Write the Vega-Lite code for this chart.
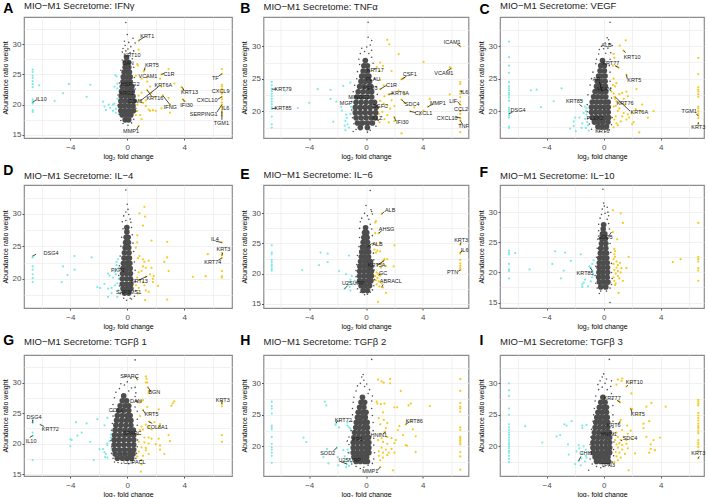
{"$schema":"https://vega.github.io/schema/vega-lite/v6.json","padding":{"left":0,"top":0,"right":0,"bottom":0},"bounds":"flush","columns":3,"spacing":{"row":47,"column":31.5},
"config":{"view":{"stroke":"#8c8c8c","strokeWidth":1.2},"circle":{"opacity":1},"axis":{"domain":false,"gridColor":"#ebebeb","gridWidth":0.7,"tickSize":2,"tickColor":"#555555","labelFont":"Liberation Sans","labelFontSize":8,"labelColor":"#4d4d4d","titleFont":"Liberation Sans","titleFontSize":7,"titleFontWeight":"normal","titleColor":"#000000"},"axisX":{"labelPadding":3,"titlePadding":1},"axisY":{"labelPadding":1,"titlePadding":4},"title":{"anchor":"start","frame":"group","font":"Liberation Sans","fontSize":9.5,"fontWeight":"normal","color":"#222222"},"style":{"c":{"color":"#4d4d4d","size":32},"g":{"color":"#4d4d4d","size":2.5},"u":{"color":"#f6ca1f","size":5},"d":{"color":"#7fe9e9","size":5},"s":{"stroke":"#000000","strokeWidth":0.7},"l":{"font":"Liberation Sans","fontSize":5.5,"color":"#1a1a1a"},"t":{"font":"Liberation Sans","fontSize":14,"fontWeight":"bold","color":"#000000","align":"left","baseline":"alphabetic"}}},
"datasets":{
"A_d":[{"x":-6.64,"y":25.8},{"x":-6.64,"y":25.4},{"x":-6.64,"y":24.8},{"x":-6.64,"y":24.4},{"x":-6.64,"y":23.9},{"x":-6.64,"y":23.4},{"x":-6.64,"y":22.9},{"x":-6.64,"y":20.9},{"x":-6.64,"y":20.6},{"x":-6.64,"y":20.4},{"x":-6.64,"y":20.2},{"x":-6.64,"y":19.1},{"x":-6.64,"y":18.8},{"x":-6.2,"y":23.2},{"x":-4.1,"y":23.4},{"x":-4.5,"y":21.9},{"x":-5.1,"y":20.6},{"x":-2.85,"y":21.3},{"x":-2.6,"y":23.3},{"x":-1.7,"y":20.5},{"x":-1.6,"y":19.7},{"x":-1.5,"y":19.1},{"x":-1.3,"y":20},{"x":-1.2,"y":19.5},{"x":-1,"y":20},{"x":-1,"y":19},{"x":-0.9,"y":20.2},{"x":-0.8,"y":19.3},{"x":-0.8,"y":18.7},{"x":-0.7,"y":21},{"x":-0.9,"y":23},{"x":-0.75,"y":24.7},{"x":-0.85,"y":24.9},{"x":-0.7,"y":23.5},{"x":-0.7,"y":22.7},{"x":-0.6,"y":18.5}],
"A_u":[{"x":0.8,"y":30.6},{"x":0.8,"y":29.1},{"x":0.7,"y":26.7},{"x":0.75,"y":26.5},{"x":1.2,"y":25.7},{"x":1.15,"y":25.5},{"x":0.6,"y":24.8},{"x":1,"y":24.3},{"x":1.4,"y":24.5},{"x":1.4,"y":23.8},{"x":2.4,"y":25},{"x":2.9,"y":25.9},{"x":2.3,"y":24.3},{"x":3.3,"y":23.5},{"x":2.4,"y":23},{"x":1.6,"y":23},{"x":3.8,"y":22.9},{"x":3.9,"y":22.5},{"x":3.9,"y":20.9},{"x":4,"y":20.6},{"x":2.5,"y":21.5},{"x":2.9,"y":21.1},{"x":3,"y":20},{"x":3,"y":18.7},{"x":2.4,"y":19.4},{"x":2,"y":19},{"x":1.8,"y":19.1},{"x":1.5,"y":19.2},{"x":1.3,"y":19.8},{"x":1.1,"y":20.3},{"x":0.9,"y":20.6},{"x":0.8,"y":21.5},{"x":1,"y":22},{"x":1.4,"y":22.4},{"x":1.7,"y":21.9},{"x":1.9,"y":21.3},{"x":1.3,"y":20.7},{"x":0.7,"y":20},{"x":0.7,"y":19},{"x":0.6,"y":18.3},{"x":0.9,"y":18.3},{"x":1,"y":17.6},{"x":0.8,"y":16.5},{"x":1.6,"y":19},{"x":6.64,"y":25.9},{"x":6.64,"y":25.1},{"x":6.64,"y":23.3},{"x":6.64,"y":23},{"x":6.64,"y":22.6},{"x":6.64,"y":22.2},{"x":6.64,"y":21.8},{"x":6.64,"y":21.3},{"x":6.64,"y":20.9},{"x":6.64,"y":20.4},{"x":6.64,"y":20},{"x":6.64,"y":19.6},{"x":6.64,"y":19.2},{"x":6.64,"y":18.7},{"x":6.64,"y":18.2}],
"A_g":[{"x":-0.1,"y":33.6},{"x":0,"y":31.6},{"x":-0.2,"y":30.5},{"x":0.4,"y":31},{"x":0.1,"y":30.3},{"x":0.55,"y":30.2},{"x":-0.15,"y":29.8},{"x":0.25,"y":29.6},{"x":-0.3,"y":29.3},{"x":0.05,"y":29.2},{"x":0.45,"y":28.9},{"x":-0.35,"y":28.7},{"x":-0.1,"y":28.9},{"x":0.2,"y":28.6},{"x":0.35,"y":27.6},{"x":-0.35,"y":27.4},{"x":0.45,"y":26.2},{"x":-0.45,"y":25.7},{"x":0.5,"y":24.5},{"x":-0.55,"y":23.6},{"x":0.55,"y":22.6},{"x":-0.65,"y":21.6},{"x":0.62,"y":20.6},{"x":-0.65,"y":19.9},{"x":0.6,"y":18.9},{"x":-0.55,"y":18.4},{"x":0.45,"y":17.6},{"x":-0.45,"y":17.4},{"x":0.3,"y":17},{"x":-0.3,"y":16.9},{"x":0.05,"y":16.6},{"x":0.6,"y":19.4}],
"A_c":[{"x":-0.15,"y":17.5},{"x":0.1,"y":17.5},{"x":-0.35,"y":18.3},{"x":-0.05,"y":18.3},{"x":0.25,"y":18.3},{"x":-0.45,"y":19},{"x":-0.15,"y":19},{"x":0.15,"y":19},{"x":0.42,"y":19},{"x":-0.48,"y":19.8},{"x":-0.2,"y":19.8},{"x":0.1,"y":19.8},{"x":0.4,"y":19.8},{"x":-0.45,"y":20.6},{"x":-0.15,"y":20.6},{"x":0.15,"y":20.6},{"x":0.45,"y":20.6},{"x":-0.42,"y":21.4},{"x":-0.12,"y":21.4},{"x":0.15,"y":21.4},{"x":0.4,"y":21.4},{"x":-0.4,"y":22.2},{"x":-0.1,"y":22.2},{"x":0.15,"y":22.2},{"x":0.35,"y":22.2},{"x":-0.35,"y":23},{"x":-0.08,"y":23},{"x":0.18,"y":23},{"x":0.32,"y":23},{"x":-0.3,"y":23.8},{"x":-0.05,"y":23.8},{"x":0.2,"y":23.8},{"x":-0.28,"y":24.6},{"x":0,"y":24.6},{"x":0.2,"y":24.6},{"x":-0.22,"y":25.4},{"x":0.05,"y":25.4},{"x":0.15,"y":25.4},{"x":-0.15,"y":26.2},{"x":0.1,"y":26.2},{"x":-0.12,"y":27},{"x":0.08,"y":27},{"x":-0.05,"y":27.8}],
"A_s":[{"x":0.8,"y":30.6,"x2":1.2,"y2":31.2},{"x":1.2,"y":25.7,"x2":1.25,"y2":26.2},{"x":2.4,"y":25,"x2":2.6,"y2":25.2},{"x":0.9,"y":20.6,"x2":2.2,"y2":23},{"x":3.85,"y":22.9,"x2":4,"y2":22.3},{"x":6.64,"y":25.1,"x2":6.4,"y2":24.7},{"x":6.64,"y":21.3,"x2":6.35,"y2":20.9},{"x":1.4,"y":22.4,"x2":1.7,"y2":21.4},{"x":2.5,"y":21.5,"x2":3,"y2":20},{"x":3.9,"y":20.9,"x2":4.05,"y2":20.5},{"x":6.64,"y":20,"x2":6.3,"y2":18.8},{"x":6.64,"y":19,"x2":6.64,"y2":17.5},{"x":-6.64,"y":20.4,"x2":-6.4,"y2":20.8},{"x":0.8,"y":16.5,"x2":0.65,"y2":15.9}],
"A_l":[{"t":"KRT1","x":1.4,"y":31.4},{"t":"KRT10","x":0.33,"y":28.3},{"t":"DAN","x":0.05,"y":26.9},{"t":"KRT5","x":1.73,"y":26.5},{"t":"VCAM1","x":1.45,"y":24.7},{"t":"C1R","x":2.92,"y":25.1},{"t":"HSPG2","x":0.2,"y":23.4},{"t":"KRT6A","x":2.53,"y":23.3},{"t":"ARG1","x":-0.07,"y":21.9},{"t":"KRT13","x":4.37,"y":22.1},{"t":"CXCL9","x":6.55,"y":22.2},{"t":"TF","x":6.18,"y":24.4},{"t":"CXCL10","x":5.6,"y":20.8},{"t":"KRT16","x":1.94,"y":21.1},{"t":"C3M1","x":0.56,"y":20.6},{"t":"IL10","x":-6.03,"y":21},{"t":"IFNG","x":3.02,"y":19.6},{"t":"IFI30","x":4.16,"y":19.9},{"t":"IL6","x":6.9,"y":19.5},{"t":"SERPING1","x":5.36,"y":18.5},{"t":"TGM1","x":6.6,"y":17},{"t":"MMP1","x":0.26,"y":15.7}],
"B_d":[{"x":-6.64,"y":24.5},{"x":-6.64,"y":24},{"x":-6.64,"y":23.5},{"x":-6.64,"y":23.1},{"x":-6.64,"y":22.7},{"x":-6.64,"y":22.3},{"x":-6.64,"y":21.9},{"x":-6.64,"y":21.5},{"x":-6.64,"y":21.1},{"x":-6.64,"y":20.7},{"x":-6.64,"y":20.4},{"x":-6.64,"y":19.2},{"x":-6.64,"y":18},{"x":-6.64,"y":17.5},{"x":-5.7,"y":23.2},{"x":-4.8,"y":20.5},{"x":-4,"y":21.3},{"x":-3.4,"y":23.4},{"x":-2.5,"y":23.3},{"x":-2.5,"y":21.9},{"x":-2.1,"y":21.5},{"x":-1.6,"y":23.9},{"x":-1.1,"y":24.4},{"x":-1.75,"y":20.7},{"x":-1.7,"y":20.1},{"x":-2.3,"y":18.4},{"x":-1.4,"y":19.5},{"x":-1.35,"y":19},{"x":-1.45,"y":18.5},{"x":-1.3,"y":18},{"x":-1.5,"y":17.8},{"x":-1.45,"y":17.1},{"x":-1.2,"y":17.5},{"x":-1.1,"y":19.6},{"x":-1.05,"y":20.7},{"x":-1,"y":22}],
"B_u":[{"x":1.5,"y":31},{"x":1.65,"y":30.3},{"x":2.3,"y":28.8},{"x":1,"y":27.5},{"x":1.2,"y":27},{"x":0.75,"y":26.8},{"x":0.95,"y":26.2},{"x":1.8,"y":26.2},{"x":4.05,"y":27.6},{"x":2.5,"y":24.9},{"x":2.65,"y":25.1},{"x":1,"y":24.8},{"x":1.25,"y":24},{"x":1,"y":23.4},{"x":1.6,"y":22.6},{"x":2.3,"y":23.2},{"x":2.7,"y":22.8},{"x":1.3,"y":22.3},{"x":1.8,"y":21.7},{"x":2.5,"y":21.8},{"x":2.7,"y":21.3},{"x":1,"y":21.6},{"x":1.25,"y":21.2},{"x":1.5,"y":20.9},{"x":0.9,"y":20.6},{"x":1.7,"y":20.4},{"x":2,"y":20.8},{"x":3.1,"y":20},{"x":3.8,"y":19.5},{"x":4.05,"y":20.1},{"x":3.4,"y":20.6},{"x":4.5,"y":21.9},{"x":4.35,"y":20.7},{"x":0.9,"y":19.6},{"x":1.15,"y":19.9},{"x":1.5,"y":19.4},{"x":2,"y":19.1},{"x":2,"y":18.5},{"x":1.3,"y":18.8},{"x":0.95,"y":18.3},{"x":1.6,"y":18.3},{"x":2.5,"y":16.6},{"x":5.9,"y":26.8},{"x":6,"y":26.6},{"x":5.9,"y":22.6},{"x":6.64,"y":30},{"x":6.64,"y":24.5},{"x":6.64,"y":24.2},{"x":6.64,"y":23.1},{"x":6.64,"y":22.7},{"x":6.64,"y":22.2},{"x":6.64,"y":21.5},{"x":6.64,"y":21},{"x":6.64,"y":20},{"x":6.64,"y":19.6},{"x":6.64,"y":19},{"x":6.64,"y":18.6},{"x":6.64,"y":18},{"x":6.64,"y":16.8}],
"B_g":[{"x":0.15,"y":33.7},{"x":0.15,"y":31.4},{"x":0.4,"y":30.9},{"x":0.3,"y":30.2},{"x":-0.3,"y":29.7},{"x":0.05,"y":29.9},{"x":-0.1,"y":29.2},{"x":0.4,"y":29.4},{"x":-0.4,"y":28.9},{"x":0.2,"y":28.9},{"x":-0.5,"y":28},{"x":0.4,"y":28.3},{"x":0.5,"y":27.4},{"x":-0.45,"y":27.2},{"x":0.6,"y":26.5},{"x":-0.6,"y":26.1},{"x":-0.65,"y":25},{"x":0.6,"y":25},{"x":-0.8,"y":24},{"x":0.7,"y":23.8},{"x":-0.9,"y":23},{"x":0.8,"y":22.6},{"x":-1,"y":21.5},{"x":-1,"y":20.2},{"x":-0.95,"y":19},{"x":0.85,"y":18.6},{"x":-0.85,"y":18.1},{"x":0.7,"y":17.7},{"x":-0.7,"y":17.2},{"x":-0.9,"y":16.9},{"x":0.3,"y":17.1},{"x":0.1,"y":16.8}],
"B_c":[{"x":-0.4,"y":17.5},{"x":0.1,"y":17.5},{"x":-0.6,"y":18.2},{"x":-0.25,"y":18.2},{"x":0.1,"y":18.2},{"x":0.45,"y":18.2},{"x":-0.7,"y":19},{"x":-0.35,"y":19},{"x":0,"y":19},{"x":0.35,"y":19},{"x":0.65,"y":19},{"x":-0.75,"y":19.8},{"x":-0.4,"y":19.8},{"x":-0.05,"y":19.8},{"x":0.3,"y":19.8},{"x":0.68,"y":19.8},{"x":-0.75,"y":20.6},{"x":-0.4,"y":20.6},{"x":-0.05,"y":20.6},{"x":0.3,"y":20.6},{"x":0.7,"y":20.6},{"x":-0.7,"y":21.4},{"x":-0.35,"y":21.4},{"x":0,"y":21.4},{"x":0.35,"y":21.4},{"x":0.6,"y":21.4},{"x":-0.65,"y":22.2},{"x":-0.3,"y":22.2},{"x":0.05,"y":22.2},{"x":0.4,"y":22.2},{"x":-0.55,"y":23},{"x":-0.2,"y":23},{"x":0.15,"y":23},{"x":0.4,"y":23},{"x":-0.45,"y":23.8},{"x":-0.15,"y":23.8},{"x":0.2,"y":23.8},{"x":0.35,"y":23.8},{"x":-0.35,"y":24.6},{"x":-0.05,"y":24.6},{"x":0.25,"y":24.6},{"x":-0.3,"y":25.4},{"x":0,"y":25.4},{"x":0.2,"y":25.4},{"x":-0.2,"y":26.2},{"x":0.1,"y":26.2},{"x":-0.15,"y":27},{"x":0.1,"y":27},{"x":-0.05,"y":27.8}],
"B_s":[{"x":6.64,"y":30,"x2":6.4,"y2":30.4},{"x":6,"y":26.6,"x2":5.7,"y2":26.2},{"x":2.5,"y":24.9,"x2":2.85,"y2":25.4},{"x":1,"y":23.4,"x2":1.45,"y2":24},{"x":1.6,"y":22.6,"x2":1.95,"y2":22.8},{"x":2.5,"y":21.8,"x2":2.8,"y2":21.2},{"x":4.35,"y":20.7,"x2":4.7,"y2":21.1},{"x":3.1,"y":20,"x2":3.5,"y2":19.8},{"x":2,"y":19.1,"x2":2.1,"y2":18.5},{"x":-6.64,"y":23.4,"x2":-6.3,"y2":23.4},{"x":-6.64,"y":20.4,"x2":-6.3,"y2":20.5},{"x":6.64,"y":23.1,"x2":6.8,"y2":23},{"x":6.64,"y":21,"x2":6.45,"y2":21.5},{"x":6.64,"y":20,"x2":6.7,"y2":20.2},{"x":6.64,"y":19,"x2":6.3,"y2":19.1},{"x":6.64,"y":18.6,"x2":6.8,"y2":18}],
"B_l":[{"t":"ICAM1","x":6.07,"y":30.7},{"t":"VCAM1","x":5.48,"y":25.9},{"t":"CSF1","x":3.08,"y":25.7},{"t":"C1R","x":1.79,"y":24.1},{"t":"KRT6A","x":2.4,"y":22.8},{"t":"SDC4","x":3.25,"y":21.1},{"t":"MMP1","x":5.06,"y":21.3},{"t":"CXCL1","x":4.05,"y":19.7},{"t":"IFI30","x":2.56,"y":18.3},{"t":"KRT79","x":-5.84,"y":23.4},{"t":"KRT85","x":-5.84,"y":20.5},{"t":"LIF","x":6.14,"y":21.6},{"t":"IL6","x":6.94,"y":23},{"t":"CCL2","x":6.7,"y":20.4},{"t":"CXCL10","x":5.72,"y":19},{"t":"TNF","x":6.87,"y":17.7},{"t":"KRT17","x":0.65,"y":26.3},{"t":"PLAU","x":0.5,"y":25},{"t":"NEU3","x":0.3,"y":23.6},{"t":"MINDC2","x":-0.5,"y":22.2},{"t":"DGFC","x":1,"y":20.8},{"t":"KLZ","x":0.8,"y":19},{"t":"MGP","x":-1.4,"y":21.3}],
"C_d":[{"x":-6.64,"y":30.7},{"x":-6.64,"y":28.3},{"x":-6.64,"y":27},{"x":-6.64,"y":25.9},{"x":-6.64,"y":24.5},{"x":-6.64,"y":23.8},{"x":-6.64,"y":23.5},{"x":-6.64,"y":23.2},{"x":-6.64,"y":22.8},{"x":-6.64,"y":22.5},{"x":-6.64,"y":22.1},{"x":-6.64,"y":21.6},{"x":-6.64,"y":20.5},{"x":-6.64,"y":20.2},{"x":-6.64,"y":19.9},{"x":-6.64,"y":19.6},{"x":-6.64,"y":19.3},{"x":-6.64,"y":19},{"x":-6.64,"y":17.6},{"x":-6.64,"y":17.4},{"x":-5.1,"y":23.2},{"x":-4.7,"y":23.3},{"x":-2.95,"y":23.5},{"x":-3.5,"y":21.5},{"x":-4.4,"y":20.6},{"x":-1.5,"y":21.6},{"x":-1.3,"y":20.7},{"x":-1.2,"y":20.4},{"x":-1.25,"y":20},{"x":-1.2,"y":19.5},{"x":-1.3,"y":18.8},{"x":-1.15,"y":18.3},{"x":-1.1,"y":17.8},{"x":-1.25,"y":17.4},{"x":-1.5,"y":18.1},{"x":-1.7,"y":19},{"x":-2,"y":19},{"x":-2.1,"y":18.4},{"x":-2.1,"y":17.7},{"x":-2.35,"y":17.3},{"x":-1.95,"y":16.9},{"x":-1.55,"y":17.4},{"x":-1.05,"y":17},{"x":-1.4,"y":19.7}],
"C_u":[{"x":1.55,"y":30.9},{"x":1.13,"y":30.1},{"x":1.4,"y":29.3},{"x":0.7,"y":28.8},{"x":0.75,"y":28.2},{"x":0.65,"y":27},{"x":0.9,"y":26.9},{"x":1.05,"y":26.7},{"x":1.6,"y":25.6},{"x":0.7,"y":25},{"x":0.9,"y":24.3},{"x":0.65,"y":24},{"x":0.8,"y":23.8},{"x":0.55,"y":23},{"x":0.7,"y":22.7},{"x":0.75,"y":22.2},{"x":0.8,"y":21.9},{"x":0.9,"y":21.5},{"x":1.1,"y":22.6},{"x":1.3,"y":22.8},{"x":1.6,"y":23},{"x":2.3,"y":23.4},{"x":1.7,"y":22.3},{"x":1.4,"y":21.9},{"x":1.15,"y":21.3},{"x":1.5,"y":21},{"x":0.85,"y":20.8},{"x":1.1,"y":20.4},{"x":0.7,"y":20.7},{"x":1,"y":20},{"x":1.4,"y":19.7},{"x":1.7,"y":19.5},{"x":2,"y":19.7},{"x":2.6,"y":20},{"x":2.7,"y":21},{"x":2.25,"y":20.3},{"x":3.5,"y":20},{"x":3.1,"y":19},{"x":1.8,"y":19},{"x":1.3,"y":19.2},{"x":0.85,"y":19.2},{"x":0.75,"y":18.7},{"x":0.9,"y":18.1},{"x":1.2,"y":18.4},{"x":1,"y":17.8},{"x":0.7,"y":17.5},{"x":2.1,"y":18.3},{"x":2,"y":18},{"x":1.6,"y":18.7},{"x":2.5,"y":16.7},{"x":6.64,"y":28.2},{"x":6.64,"y":25.7},{"x":6.64,"y":23.7},{"x":6.64,"y":23.3},{"x":6.64,"y":23},{"x":6.64,"y":22.6},{"x":6.64,"y":22.2},{"x":6.64,"y":20.7},{"x":6.64,"y":20.4},{"x":6.64,"y":20},{"x":6.64,"y":19.6},{"x":6.64,"y":19.3},{"x":6.64,"y":18.9},{"x":6.64,"y":18}],
"C_g":[{"x":0.45,"y":33.7},{"x":0.25,"y":31.3},{"x":0.35,"y":31},{"x":0.1,"y":30.5},{"x":0.4,"y":30.4},{"x":0.6,"y":30.1},{"x":-0.15,"y":30},{"x":0.3,"y":29.7},{"x":-0.3,"y":29.5},{"x":0,"y":29.6},{"x":0.5,"y":29},{"x":-0.35,"y":28.8},{"x":0.15,"y":28.9},{"x":-0.5,"y":28},{"x":0.45,"y":28},{"x":-0.55,"y":27.3},{"x":0.4,"y":27},{"x":-0.75,"y":26},{"x":0.45,"y":26},{"x":-0.85,"y":25},{"x":0.45,"y":24.6},{"x":-0.95,"y":24},{"x":0.5,"y":23.5},{"x":-1.1,"y":22.5},{"x":0.55,"y":22},{"x":-1.15,"y":21},{"x":-1.15,"y":19.9},{"x":-1.1,"y":18.9},{"x":0.6,"y":19},{"x":-1,"y":18},{"x":0.55,"y":17.9},{"x":-0.85,"y":17.2},{"x":0.4,"y":17.1},{"x":0.1,"y":16.8},{"x":-0.3,"y":16.9}],
"C_c":[{"x":-0.4,"y":17.6},{"x":-0.1,"y":17.6},{"x":0.2,"y":17.6},{"x":-0.65,"y":18.3},{"x":-0.35,"y":18.3},{"x":-0.05,"y":18.3},{"x":0.3,"y":18.3},{"x":-0.8,"y":19},{"x":-0.5,"y":19},{"x":-0.2,"y":19},{"x":0.1,"y":19},{"x":0.35,"y":19},{"x":-0.85,"y":19.8},{"x":-0.55,"y":19.8},{"x":-0.25,"y":19.8},{"x":0.05,"y":19.8},{"x":0.32,"y":19.8},{"x":-0.85,"y":20.6},{"x":-0.55,"y":20.6},{"x":-0.25,"y":20.6},{"x":0.05,"y":20.6},{"x":0.32,"y":20.6},{"x":-0.8,"y":21.4},{"x":-0.5,"y":21.4},{"x":-0.2,"y":21.4},{"x":0.1,"y":21.4},{"x":0.32,"y":21.4},{"x":-0.7,"y":22.2},{"x":-0.42,"y":22.2},{"x":-0.12,"y":22.2},{"x":0.15,"y":22.2},{"x":-0.6,"y":23},{"x":-0.3,"y":23},{"x":-0.05,"y":23},{"x":0.15,"y":23},{"x":-0.5,"y":23.8},{"x":-0.25,"y":23.8},{"x":0,"y":23.8},{"x":0.12,"y":23.8},{"x":-0.45,"y":24.6},{"x":-0.2,"y":24.6},{"x":0.1,"y":24.6},{"x":-0.35,"y":25.4},{"x":-0.1,"y":25.4},{"x":0.1,"y":25.4},{"x":-0.25,"y":26.2},{"x":0.05,"y":26.2},{"x":-0.2,"y":27},{"x":0.05,"y":27},{"x":-0.08,"y":27.8}],
"C_s":[{"x":1.4,"y":29.3,"x2":1.55,"y2":29},{"x":1.05,"y":26.7,"x2":0.8,"y2":27},{"x":1.6,"y":25.6,"x2":1.65,"y2":25},{"x":-0.1,"y":23,"x2":-0.3,"y2":24.5},{"x":0.8,"y":22.2,"x2":1.85,"y2":20},{"x":6.64,"y":19.3,"x2":6.5,"y2":19.5},{"x":6.64,"y":18,"x2":6.64,"y2":18.3},{"x":-6.64,"y":19.6,"x2":-6.4,"y2":19.8},{"x":-1.5,"y":20.7,"x2":-1.7,"y2":21}],
"C_l":[{"t":"ALB","x":0.2,"y":30.2},{"t":"KRT10","x":2,"y":28.4},{"t":"KRT77","x":0.5,"y":27.4},{"t":"KRT5","x":2.15,"y":24.8},{"t":"AR","x":-0.5,"y":25},{"t":"ACAN","x":0,"y":23.4},{"t":"KRT76","x":1.5,"y":21.2},{"t":"KRT6A","x":2.5,"y":19.9},{"t":"KRT85","x":-2.05,"y":21.6},{"t":"DSG4","x":-6,"y":20.2},{"t":"TGM1","x":6,"y":20},{"t":"KRT3","x":6.64,"y":17.5},{"t":"PLEK2","x":-0.6,"y":19},{"t":"KRT6","x":-0.1,"y":17}],
"D_d":[{"x":-6.64,"y":23.5},{"x":-6.64,"y":23.3},{"x":-6.64,"y":21.9},{"x":-6.64,"y":21.4},{"x":-6.64,"y":20.7},{"x":-6.64,"y":20.1},{"x":-6.64,"y":19.5},{"x":-4.5,"y":21.9},{"x":-3.7,"y":23.5},{"x":-2.5,"y":23.3},{"x":-3.7,"y":21.4},{"x":-4.2,"y":20.6},{"x":-4.6,"y":19.5},{"x":-2.1,"y":18.7},{"x":-1.9,"y":18.6},{"x":-1.6,"y":19.2},{"x":-1.35,"y":18.5},{"x":-1.1,"y":18.6},{"x":-1.35,"y":20.8},{"x":-1.25,"y":20.5},{"x":-1,"y":20.2},{"x":-0.9,"y":21.1},{"x":-0.8,"y":20.7},{"x":-0.75,"y":22.1},{"x":-0.75,"y":22.6},{"x":-0.65,"y":23},{"x":-0.6,"y":21.7},{"x":-0.6,"y":20},{"x":-0.7,"y":19.3},{"x":-0.85,"y":19},{"x":-1.1,"y":17.8},{"x":-0.7,"y":17.2},{"x":-1.35,"y":17.2},{"x":-0.6,"y":18.2}],
"D_u":[{"x":1.2,"y":31.1},{"x":0.85,"y":30.1},{"x":1.25,"y":29.6},{"x":1.1,"y":28.2},{"x":0.7,"y":26.7},{"x":0.7,"y":25.6},{"x":1.7,"y":25.9},{"x":2.8,"y":25.7},{"x":0.6,"y":24.8},{"x":0.85,"y":23.5},{"x":0.75,"y":23.2},{"x":1.1,"y":23},{"x":1.2,"y":22.6},{"x":1.5,"y":22.8},{"x":2.8,"y":23.3},{"x":2.6,"y":22.6},{"x":1.1,"y":21.9},{"x":1.3,"y":21.7},{"x":1.7,"y":21.7},{"x":2.9,"y":21.2},{"x":0.8,"y":21},{"x":1,"y":21.2},{"x":1.6,"y":20.7},{"x":1.85,"y":20.4},{"x":0.7,"y":20.2},{"x":1.3,"y":20.3},{"x":1.8,"y":20},{"x":0.85,"y":19.8},{"x":1.1,"y":19.5},{"x":1.8,"y":19.5},{"x":0.6,"y":19},{"x":1.2,"y":19},{"x":2.15,"y":18.9},{"x":0.8,"y":18.6},{"x":1.3,"y":18.2},{"x":1.5,"y":18},{"x":0.75,"y":17.7},{"x":1.25,"y":16.7},{"x":2.8,"y":16.8},{"x":4.6,"y":20.3},{"x":5.5,"y":20.4},{"x":5.65,"y":23.8},{"x":6.64,"y":25.6},{"x":6.64,"y":24},{"x":6.64,"y":23.6},{"x":6.64,"y":23.2},{"x":6.64,"y":21.2},{"x":6.64,"y":20.4},{"x":6.64,"y":20.2}],
"D_g":[{"x":-0.1,"y":33.7},{"x":0,"y":31.5},{"x":0.05,"y":30.7},{"x":-0.1,"y":30.3},{"x":0.1,"y":29.9},{"x":-0.25,"y":29.7},{"x":0.2,"y":29.2},{"x":-0.1,"y":29},{"x":-0.35,"y":28.8},{"x":0.25,"y":28.7},{"x":0.3,"y":27.9},{"x":-0.3,"y":27.7},{"x":0.35,"y":26.8},{"x":-0.4,"y":26.4},{"x":0.4,"y":25.5},{"x":-0.45,"y":25},{"x":0.45,"y":24.2},{"x":-0.5,"y":23.5},{"x":0.5,"y":22.6},{"x":-0.55,"y":22},{"x":0.55,"y":21.3},{"x":-0.6,"y":20.5},{"x":0.55,"y":19.6},{"x":-0.55,"y":18.9},{"x":0.6,"y":18.2},{"x":-0.5,"y":17.7},{"x":0.5,"y":17.3},{"x":-0.25,"y":17},{"x":0.2,"y":17},{"x":-0.05,"y":16.7},{"x":0.3,"y":16.9}],
"D_c":[{"x":-0.2,"y":17.8},{"x":0.1,"y":17.8},{"x":-0.3,"y":18.5},{"x":0,"y":18.5},{"x":0.25,"y":18.5},{"x":-0.35,"y":19.2},{"x":-0.05,"y":19.2},{"x":0.25,"y":19.2},{"x":-0.35,"y":20},{"x":-0.05,"y":20},{"x":0.22,"y":20},{"x":-0.33,"y":20.8},{"x":-0.05,"y":20.8},{"x":0.22,"y":20.8},{"x":-0.3,"y":21.6},{"x":-0.03,"y":21.6},{"x":0.2,"y":21.6},{"x":-0.27,"y":22.4},{"x":-0.02,"y":22.4},{"x":0.18,"y":22.4},{"x":-0.23,"y":23.2},{"x":0,"y":23.2},{"x":0.15,"y":23.2},{"x":-0.2,"y":24},{"x":0.12,"y":24},{"x":-0.15,"y":24.8},{"x":0.1,"y":24.8},{"x":-0.12,"y":25.6},{"x":0.08,"y":25.6},{"x":-0.08,"y":26.4},{"x":0.06,"y":26.4},{"x":-0.03,"y":27.2},{"x":-0.03,"y":27.9}],
"D_s":[{"x":6.64,"y":25.6,"x2":6.2,"y2":25.8},{"x":6.64,"y":23.6,"x2":6.7,"y2":24},{"x":6.64,"y":23.2,"x2":6.4,"y2":22.9},{"x":-6.64,"y":23.5,"x2":-6.4,"y2":23.8},{"x":0.8,"y":19.8,"x2":1.4,"y2":20.4}],
"D_l":[{"t":"IL4","x":6.15,"y":26.2},{"t":"KRT3","x":6.75,"y":24.6},{"t":"KRT74","x":6,"y":22.6},{"t":"DSG4","x":-5.35,"y":24},{"t":"PKP1","x":-0.65,"y":21.3},{"t":"KRT13","x":0.85,"y":19.7},{"t":"SAP3MS1","x":0.1,"y":17.9}],
"E_d":[{"x":-6.64,"y":24.7},{"x":-6.64,"y":23.5},{"x":-6.64,"y":23.2},{"x":-6.64,"y":22.3},{"x":-6.64,"y":21.9},{"x":-6.64,"y":21.5},{"x":-6.64,"y":21.2},{"x":-6.64,"y":20.8},{"x":-6.64,"y":20.5},{"x":-4.5,"y":20.6},{"x":-3.2,"y":23.5},{"x":-2.7,"y":23.3},{"x":-2.7,"y":21.9},{"x":-3.3,"y":21.4},{"x":-1.9,"y":20.4},{"x":-1.2,"y":23},{"x":-1.4,"y":19.9},{"x":-1,"y":19.6},{"x":-1.1,"y":19},{"x":-1.1,"y":18.6},{"x":-1.3,"y":18.2},{"x":-1.5,"y":17.5},{"x":-1.15,"y":17.8},{"x":-1.1,"y":17.2},{"x":-0.8,"y":18.8}],
"E_u":[{"x":1.1,"y":29.9},{"x":0.7,"y":28.7},{"x":0.65,"y":28.5},{"x":0.65,"y":26.7},{"x":0.9,"y":26.7},{"x":1,"y":25.2},{"x":0.7,"y":24.9},{"x":2,"y":24.7},{"x":0.6,"y":24},{"x":0.8,"y":23.8},{"x":1,"y":23.7},{"x":0.7,"y":23.5},{"x":1.3,"y":22.4},{"x":1.5,"y":22.4},{"x":1.2,"y":22.1},{"x":1.1,"y":21.7},{"x":0.8,"y":21.4},{"x":1.05,"y":21},{"x":1.4,"y":21.3},{"x":1.95,"y":21.2},{"x":0.75,"y":20.2},{"x":0.85,"y":19.9},{"x":1,"y":19.7},{"x":0.65,"y":19.6},{"x":0.8,"y":19.3},{"x":0.7,"y":18.9},{"x":0.9,"y":18.7},{"x":1.1,"y":18.4},{"x":0.75,"y":18.2},{"x":0.95,"y":17.9},{"x":1.2,"y":17.7},{"x":1.4,"y":16.8},{"x":0.85,"y":15.3},{"x":6.64,"y":24.8},{"x":6.64,"y":23.5},{"x":6.64,"y":23.3},{"x":6.64,"y":22.3},{"x":6.64,"y":21.7},{"x":6.64,"y":21.3},{"x":6.64,"y":20.9},{"x":6.64,"y":20.6}],
"E_g":[{"x":0.3,"y":33.8},{"x":0,"y":31.3},{"x":0.35,"y":30.6},{"x":0.4,"y":30.3},{"x":-0.1,"y":30},{"x":0.45,"y":29.9},{"x":0.1,"y":29.6},{"x":-0.3,"y":29.2},{"x":0.2,"y":29},{"x":-0.4,"y":28.6},{"x":0.3,"y":28.2},{"x":0.4,"y":27.4},{"x":-0.45,"y":27.5},{"x":0.45,"y":26.3},{"x":-0.45,"y":26},{"x":0.5,"y":25},{"x":-0.5,"y":24.5},{"x":0.52,"y":23.4},{"x":-0.6,"y":23},{"x":0.55,"y":22.3},{"x":-0.65,"y":21.5},{"x":0.58,"y":20.6},{"x":-0.7,"y":20.5},{"x":-0.7,"y":19.5},{"x":0.6,"y":19},{"x":-0.7,"y":18.5},{"x":0.55,"y":18},{"x":-0.6,"y":17.5},{"x":0.45,"y":17.3},{"x":-0.4,"y":16.9},{"x":0.3,"y":16.9},{"x":-0.1,"y":16.5},{"x":0.1,"y":16.6}],
"E_c":[{"x":-0.2,"y":17.2},{"x":0.1,"y":17.2},{"x":-0.35,"y":18},{"x":-0.05,"y":18},{"x":0.25,"y":18},{"x":-0.45,"y":18.8},{"x":-0.15,"y":18.8},{"x":0.15,"y":18.8},{"x":0.35,"y":18.8},{"x":-0.45,"y":19.6},{"x":-0.15,"y":19.6},{"x":0.15,"y":19.6},{"x":0.38,"y":19.6},{"x":-0.45,"y":20.4},{"x":-0.15,"y":20.4},{"x":0.15,"y":20.4},{"x":0.38,"y":20.4},{"x":-0.43,"y":21.2},{"x":-0.13,"y":21.2},{"x":0.15,"y":21.2},{"x":0.35,"y":21.2},{"x":-0.38,"y":22},{"x":-0.1,"y":22},{"x":0.15,"y":22},{"x":0.32,"y":22},{"x":-0.33,"y":22.8},{"x":-0.08,"y":22.8},{"x":0.18,"y":22.8},{"x":-0.3,"y":23.6},{"x":-0.05,"y":23.6},{"x":0.18,"y":23.6},{"x":-0.25,"y":24.4},{"x":0,"y":24.4},{"x":0.15,"y":24.4},{"x":-0.2,"y":25.2},{"x":0.1,"y":25.2},{"x":-0.15,"y":26},{"x":0.08,"y":26},{"x":-0.1,"y":26.8},{"x":0.05,"y":26.8},{"x":-0.03,"y":27.6}],
"E_s":[{"x":1.1,"y":29.9,"x2":1.3,"y2":30.3},{"x":0.9,"y":26.7,"x2":1.1,"y2":27.1},{"x":0.1,"y":24.4,"x2":0.4,"y2":25},{"x":0.8,"y":21.4,"x2":1.3,"y2":22.2},{"x":6.64,"y":24.8,"x2":6.7,"y2":25.2},{"x":6.64,"y":23.5,"x2":6.8,"y2":23.8},{"x":6.64,"y":20.6,"x2":6.5,"y2":20.4},{"x":0.9,"y":19.7,"x2":1,"y2":20},{"x":1.1,"y":17.7,"x2":1.2,"y2":18.2},{"x":-1.5,"y":17.5,"x2":-1.3,"y2":18}],
"E_l":[{"t":"ALB","x":1.7,"y":30.5},{"t":"AHSG","x":1.45,"y":27.4},{"t":"KRT3","x":6.7,"y":25.5},{"t":"IL6","x":6.95,"y":24},{"t":"PTN","x":6.1,"y":20.3},{"t":"ALB","x":0.8,"y":24.9},{"t":"KRT5A","x":0.75,"y":21.5},{"t":"GC","x":1.2,"y":20.1},{"t":"ABRACL","x":1.75,"y":18.8},{"t":"U2SURP","x":-0.9,"y":18.4}],
"F_d":[{"x":-6.64,"y":23.6},{"x":-6.64,"y":23.3},{"x":-6.64,"y":23},{"x":-6.64,"y":21.4},{"x":-6.64,"y":20.5},{"x":-6.64,"y":20.2},{"x":-6.64,"y":19},{"x":-6.2,"y":23.2},{"x":-5.2,"y":20.5},{"x":-3.4,"y":23.5},{"x":-2.7,"y":23.3},{"x":-3.6,"y":21.4},{"x":-2.3,"y":21.9},{"x":-2.8,"y":20.3},{"x":-3,"y":19},{"x":-1.6,"y":23},{"x":-0.7,"y":22},{"x":-0.8,"y":21.4},{"x":-0.9,"y":20.8},{"x":-0.8,"y":20.3},{"x":-0.75,"y":19.6},{"x":-0.8,"y":19.2},{"x":-0.9,"y":18.5},{"x":-1.3,"y":18.8},{"x":-1.4,"y":18.3},{"x":-1.5,"y":18},{"x":-1.1,"y":17.7},{"x":-1.5,"y":17.6},{"x":-1,"y":21}],
"F_u":[{"x":0.65,"y":30.3},{"x":1.2,"y":29.8},{"x":1.35,"y":28.2},{"x":0.65,"y":26.7},{"x":0.95,"y":25.5},{"x":0.75,"y":23.9},{"x":0.8,"y":23.5},{"x":0.75,"y":23},{"x":0.8,"y":22.6},{"x":1.75,"y":22.6},{"x":0.7,"y":22.2},{"x":0.9,"y":21.8},{"x":1.15,"y":21.6},{"x":0.7,"y":21.4},{"x":1,"y":21.2},{"x":0.9,"y":20.8},{"x":1.25,"y":20.7},{"x":1.6,"y":20.7},{"x":0.75,"y":20.4},{"x":1,"y":20.2},{"x":1.2,"y":20},{"x":0.85,"y":19.8},{"x":1,"y":19.4},{"x":0.7,"y":19.2},{"x":1.1,"y":19},{"x":0.75,"y":18.6},{"x":1.35,"y":18.6},{"x":0.85,"y":18.2},{"x":0.8,"y":17.9},{"x":1.05,"y":16.6},{"x":4.85,"y":21.7},{"x":5.4,"y":22.2},{"x":6.64,"y":28.2},{"x":6.64,"y":22.6},{"x":6.64,"y":22.2},{"x":6.64,"y":21.8},{"x":6.64,"y":20.7},{"x":6.64,"y":20.3},{"x":6.64,"y":18.6}],
"F_g":[{"x":-0.05,"y":33.8},{"x":0,"y":31.5},{"x":0.05,"y":31},{"x":0.25,"y":30.8},{"x":-0.1,"y":30.5},{"x":0.3,"y":30},{"x":0.1,"y":29.8},{"x":-0.15,"y":29.6},{"x":0.35,"y":29.4},{"x":-0.25,"y":29},{"x":0.25,"y":28.8},{"x":0.35,"y":28.1},{"x":-0.35,"y":28},{"x":0.4,"y":27.2},{"x":-0.35,"y":26.9},{"x":0.45,"y":26},{"x":-0.4,"y":25.5},{"x":0.45,"y":24.8},{"x":-0.45,"y":24},{"x":0.5,"y":23.3},{"x":-0.5,"y":22.5},{"x":0.55,"y":21.5},{"x":-0.55,"y":21},{"x":0.55,"y":20},{"x":-0.6,"y":19.5},{"x":0.6,"y":19},{"x":-0.55,"y":18.2},{"x":0.55,"y":18},{"x":-0.45,"y":17.4},{"x":0.45,"y":17.4},{"x":-0.2,"y":16.9},{"x":0.2,"y":16.9},{"x":-0.3,"y":16.5},{"x":0.45,"y":15}],
"F_c":[{"x":-0.2,"y":17.6},{"x":0.15,"y":17.6},{"x":-0.3,"y":18.4},{"x":0,"y":18.4},{"x":0.3,"y":18.4},{"x":-0.35,"y":19.2},{"x":-0.05,"y":19.2},{"x":0.25,"y":19.2},{"x":-0.33,"y":20},{"x":-0.05,"y":20},{"x":0.27,"y":20},{"x":-0.32,"y":20.8},{"x":-0.03,"y":20.8},{"x":0.27,"y":20.8},{"x":-0.3,"y":21.6},{"x":-0.02,"y":21.6},{"x":0.25,"y":21.6},{"x":-0.27,"y":22.4},{"x":0,"y":22.4},{"x":0.22,"y":22.4},{"x":-0.23,"y":23.2},{"x":0,"y":23.2},{"x":0.2,"y":23.2},{"x":-0.2,"y":24},{"x":0.15,"y":24},{"x":-0.15,"y":24.8},{"x":0.15,"y":24.8},{"x":-0.12,"y":25.6},{"x":0.12,"y":25.6},{"x":-0.08,"y":26.4},{"x":0.08,"y":26.4},{"x":-0.03,"y":27.2},{"x":0,"y":27.9}],
"F_s":[{"x":0.55,"y":26.7,"x2":0.35,"y2":26},{"x":-0.8,"y":20.3,"x2":-0.95,"y2":20.8}],
"F_l":[{"t":"SOD3","x":0.1,"y":25.9},{"t":"KRT85","x":-1.3,"y":19.9}],
"G_d":[{"x":-6.64,"y":23.8},{"x":-6.64,"y":23.4},{"x":-6.64,"y":21.8},{"x":-6.64,"y":21.3},{"x":-6.64,"y":17.3},{"x":-6.1,"y":23.1},{"x":-3.6,"y":23.5},{"x":-2.85,"y":23.3},{"x":-2.1,"y":24},{"x":-1.4,"y":24.2},{"x":-1.6,"y":23},{"x":-3.2,"y":21.8},{"x":-3.5,"y":21.3},{"x":-4,"y":20.7},{"x":-3.9,"y":20.6},{"x":-4,"y":19.6},{"x":-2.6,"y":20.3},{"x":-2.35,"y":17.3},{"x":-1.95,"y":19.1},{"x":-1.7,"y":19.1},{"x":-1.6,"y":18.6},{"x":-1.5,"y":18.3},{"x":-1.55,"y":17.8},{"x":-1.4,"y":17.7},{"x":-1.4,"y":19.8},{"x":-1.4,"y":20},{"x":-1.25,"y":20.4},{"x":-1.15,"y":21.5},{"x":-1.15,"y":21},{"x":-1.1,"y":19.2}],
"G_u":[{"x":0.7,"y":30.5},{"x":1.3,"y":31},{"x":1.35,"y":30.6},{"x":1.4,"y":30},{"x":1.3,"y":30},{"x":1.45,"y":29.2},{"x":1.5,"y":28.6},{"x":1.5,"y":28.3},{"x":1,"y":27},{"x":1.1,"y":27.1},{"x":0.85,"y":26.7},{"x":1.4,"y":26},{"x":3.2,"y":26.6},{"x":3.3,"y":26.9},{"x":3.1,"y":26.2},{"x":1.1,"y":25.5},{"x":2.2,"y":25.6},{"x":1.5,"y":25},{"x":0.9,"y":24.5},{"x":1.55,"y":23.6},{"x":1.9,"y":23.5},{"x":2.3,"y":23.2},{"x":1.3,"y":23.1},{"x":1,"y":22.8},{"x":0.9,"y":22.2},{"x":1.1,"y":22.3},{"x":1.5,"y":22.7},{"x":1.7,"y":22.3},{"x":2.2,"y":22.6},{"x":0.8,"y":21.5},{"x":1.2,"y":21},{"x":1.5,"y":21},{"x":1.7,"y":20.8},{"x":2.2,"y":20.8},{"x":2.9,"y":21.4},{"x":3,"y":20.4},{"x":0.8,"y":20.3},{"x":1.2,"y":20.2},{"x":1.5,"y":20},{"x":2,"y":19.9},{"x":2.3,"y":19.7},{"x":1,"y":19.4},{"x":1.3,"y":19.3},{"x":0.8,"y":18.7},{"x":1.3,"y":18.9},{"x":1.5,"y":18.3},{"x":2.3,"y":19},{"x":2.6,"y":18.3},{"x":0.7,"y":17.9},{"x":1.1,"y":18},{"x":1,"y":17.3},{"x":1,"y":16.6},{"x":0.95,"y":15.4},{"x":6.64,"y":26.9},{"x":6.64,"y":26.5},{"x":6.64,"y":26.1},{"x":6.64,"y":21.4},{"x":6.64,"y":20.3}],
"G_g":[{"x":0.55,"y":33.7},{"x":-0.1,"y":31},{"x":0.25,"y":30.7},{"x":0,"y":30.1},{"x":-0.45,"y":29.8},{"x":0.55,"y":29.2},{"x":-0.2,"y":29.6},{"x":0.3,"y":29.1},{"x":-0.55,"y":29},{"x":-0.8,"y":28.4},{"x":0.6,"y":28.3},{"x":0.1,"y":28.6},{"x":0.55,"y":27.7},{"x":-0.9,"y":27.5},{"x":0.7,"y":26.8},{"x":-1,"y":26.4},{"x":0.55,"y":26},{"x":-1,"y":25.3},{"x":0.7,"y":25.3},{"x":-1,"y":24.5},{"x":0.7,"y":24},{"x":-1.05,"y":23.3},{"x":0.7,"y":23},{"x":-1.1,"y":22.2},{"x":0.72,"y":21.5},{"x":-1.15,"y":20.5},{"x":0.72,"y":20.6},{"x":-1.1,"y":19.5},{"x":0.7,"y":19.5},{"x":-1.1,"y":18.4},{"x":0.65,"y":18.4},{"x":-1,"y":17.6},{"x":0.6,"y":17.6},{"x":-0.9,"y":17},{"x":0.4,"y":16.9},{"x":-0.4,"y":16.8},{"x":0.1,"y":16.7},{"x":-0.65,"y":16.9}],
"G_c":[{"x":-0.7,"y":17.6},{"x":-0.35,"y":17.6},{"x":0,"y":17.6},{"x":0.3,"y":17.6},{"x":-0.85,"y":18.3},{"x":-0.5,"y":18.3},{"x":-0.15,"y":18.3},{"x":0.2,"y":18.3},{"x":0.4,"y":18.3},{"x":-0.9,"y":19},{"x":-0.55,"y":19},{"x":-0.2,"y":19},{"x":0.15,"y":19},{"x":0.45,"y":19},{"x":-0.92,"y":19.8},{"x":-0.6,"y":19.8},{"x":-0.25,"y":19.8},{"x":0.1,"y":19.8},{"x":0.45,"y":19.8},{"x":-0.92,"y":20.6},{"x":-0.6,"y":20.6},{"x":-0.25,"y":20.6},{"x":0.1,"y":20.6},{"x":0.45,"y":20.6},{"x":-0.9,"y":21.4},{"x":-0.55,"y":21.4},{"x":-0.2,"y":21.4},{"x":0.15,"y":21.4},{"x":0.45,"y":21.4},{"x":-0.85,"y":22.2},{"x":-0.5,"y":22.2},{"x":-0.15,"y":22.2},{"x":0.2,"y":22.2},{"x":0.42,"y":22.2},{"x":-0.8,"y":23},{"x":-0.45,"y":23},{"x":-0.1,"y":23},{"x":0.25,"y":23},{"x":-0.75,"y":23.8},{"x":-0.4,"y":23.8},{"x":-0.05,"y":23.8},{"x":0.25,"y":23.8},{"x":-0.7,"y":24.6},{"x":-0.35,"y":24.6},{"x":0,"y":24.6},{"x":0.2,"y":24.6},{"x":-0.6,"y":25.4},{"x":-0.25,"y":25.4},{"x":0.1,"y":25.4},{"x":-0.5,"y":26.2},{"x":-0.15,"y":26.2},{"x":0.1,"y":26.2},{"x":-0.35,"y":27},{"x":-0.05,"y":27},{"x":-0.25,"y":27.8}],
"G_s":[{"x":0.7,"y":30.5,"x2":0.55,"y2":31},{"x":1.45,"y":29.2,"x2":1.65,"y2":28.6},{"x":0.75,"y":27,"x2":0.55,"y2":27},{"x":1.1,"y":25.5,"x2":1.25,"y2":25},{"x":1.5,"y":23.6,"x2":1.75,"y2":23.3},{"x":6.64,"y":26.5,"x2":6.64,"y2":26.9},{"x":-6.64,"y":21.3,"x2":-6.85,"y2":21},{"x":-6.1,"y":23.1,"x2":-5.85,"y2":22.8},{"x":-6.64,"y":23.4,"x2":-6.64,"y2":23.9},{"x":1,"y":17.3,"x2":0.85,"y2":17.2}],
"G_l":[{"t":"SPARC","x":0.15,"y":31.1},{"t":"BGN","x":1.9,"y":28.4},{"t":"KRT5","x":1.7,"y":24.9},{"t":"COL8A1","x":2.1,"y":22.8},{"t":"KRT3","x":6.7,"y":27.2},{"t":"DSG4","x":-6.55,"y":24.3},{"t":"KRT72","x":-5.4,"y":22.4},{"t":"IL10","x":-6.75,"y":20.5},{"t":"DAN","x":0.6,"y":26.9},{"t":"COL1","x":-0.8,"y":25.5},{"t":"SPARC","x":0.35,"y":21.7},{"t":"CLIPACL","x":0.5,"y":17}],
"H_d":[{"x":-6.64,"y":27.1},{"x":-6.64,"y":26.4},{"x":-6.64,"y":26},{"x":-6.64,"y":25.2},{"x":-6.64,"y":23.3},{"x":-6.64,"y":23},{"x":-6.64,"y":22.7},{"x":-6.64,"y":21.5},{"x":-6.64,"y":20.4},{"x":-6.64,"y":19.9},{"x":-6.64,"y":19.5},{"x":-6.64,"y":19},{"x":-6.64,"y":18.5},{"x":-6.64,"y":17.4},{"x":-4.4,"y":21.4},{"x":-4.2,"y":20.7},{"x":-2.9,"y":27.1},{"x":-2.8,"y":26.5},{"x":-2.1,"y":23.7},{"x":-1.9,"y":24},{"x":-2.15,"y":23.4},{"x":-1.9,"y":23},{"x":-1.3,"y":23.8},{"x":-1.3,"y":23.3},{"x":-1.1,"y":22.8},{"x":-1.2,"y":23},{"x":-2.75,"y":19.6},{"x":-3,"y":18.3},{"x":-2.65,"y":17.3},{"x":-2.05,"y":19.8},{"x":-2,"y":18.3},{"x":-1.95,"y":17},{"x":-1.6,"y":19.4},{"x":-1.3,"y":19.5},{"x":-1.2,"y":19},{"x":-1.5,"y":18.4},{"x":-1.35,"y":18},{"x":-1.45,"y":17.6},{"x":-1.35,"y":17.2},{"x":-1.4,"y":16.7},{"x":-1.2,"y":16.9},{"x":-1.05,"y":17.5}],
"H_u":[{"x":0.85,"y":30.6},{"x":1.1,"y":30.3},{"x":1.25,"y":30.1},{"x":1.7,"y":30.7},{"x":1.7,"y":30},{"x":2.45,"y":28.8},{"x":0.75,"y":27.1},{"x":0.8,"y":26.8},{"x":1.05,"y":26.7},{"x":1.3,"y":26.8},{"x":3,"y":26.5},{"x":3.15,"y":26.8},{"x":4.5,"y":26.4},{"x":2,"y":26.2},{"x":2.2,"y":26.2},{"x":1.2,"y":25.4},{"x":0.9,"y":24.5},{"x":1.25,"y":24.2},{"x":1,"y":23.5},{"x":1.5,"y":23.7},{"x":2.8,"y":23.5},{"x":3.2,"y":24},{"x":2.35,"y":23.2},{"x":2.25,"y":22.6},{"x":3.3,"y":22.7},{"x":1.4,"y":22.9},{"x":1.3,"y":22.3},{"x":1,"y":22},{"x":1.1,"y":21.3},{"x":1.5,"y":21.5},{"x":1.8,"y":21.3},{"x":2.1,"y":21},{"x":2.6,"y":21.8},{"x":3.5,"y":21.6},{"x":0.85,"y":21},{"x":1.2,"y":20.7},{"x":1.5,"y":20.4},{"x":2,"y":20.5},{"x":2.8,"y":20.2},{"x":2.9,"y":20.1},{"x":3.5,"y":19.1},{"x":1.1,"y":19.8},{"x":1.4,"y":19.5},{"x":1.8,"y":19.6},{"x":0.9,"y":19.2},{"x":1.2,"y":19},{"x":1.6,"y":19},{"x":2,"y":19},{"x":0.9,"y":18.5},{"x":1.2,"y":18.2},{"x":1.5,"y":18.6},{"x":1,"y":17.8},{"x":1,"y":16.7},{"x":1.9,"y":16.2},{"x":6.64,"y":30.7},{"x":6.64,"y":28.8},{"x":6.64,"y":26.9},{"x":6.64,"y":26.3},{"x":6.64,"y":26},{"x":6.64,"y":25.5},{"x":6.64,"y":23},{"x":6.64,"y":22.6},{"x":6.64,"y":21.5},{"x":6.64,"y":21.2},{"x":6.64,"y":20.9},{"x":6.64,"y":20.6},{"x":6.64,"y":20.3},{"x":6.64,"y":19.1},{"x":6.64,"y":18.4},{"x":6.64,"y":16.3}],
"H_g":[{"x":0.4,"y":33.8},{"x":-0.2,"y":31.4},{"x":-0.3,"y":31},{"x":-0.15,"y":30.5},{"x":-0.4,"y":30},{"x":0.05,"y":29.9},{"x":-0.6,"y":29.6},{"x":-0.1,"y":29.5},{"x":0.25,"y":29},{"x":-0.7,"y":28.8},{"x":0.15,"y":28.4},{"x":-0.85,"y":27.8},{"x":0.45,"y":28},{"x":0.4,"y":27.2},{"x":-0.9,"y":27},{"x":-0.95,"y":26},{"x":0.4,"y":26},{"x":-0.95,"y":25},{"x":0.45,"y":24.9},{"x":-1,"y":24},{"x":0.5,"y":23.8},{"x":-1.05,"y":22.5},{"x":0.5,"y":22.5},{"x":-1.2,"y":21.5},{"x":0.55,"y":21.3},{"x":-1.2,"y":20.3},{"x":0.55,"y":20.2},{"x":-1.25,"y":19},{"x":0.6,"y":19},{"x":-1.15,"y":18},{"x":0.55,"y":18},{"x":-1,"y":17.2},{"x":0.45,"y":17.3},{"x":-0.7,"y":16.8},{"x":0.15,"y":17},{"x":-0.4,"y":16.5},{"x":-0.15,"y":16.7}],
"H_c":[{"x":-0.7,"y":17.6},{"x":-0.4,"y":17.6},{"x":-0.1,"y":17.6},{"x":0.1,"y":17.6},{"x":-0.85,"y":18.3},{"x":-0.55,"y":18.3},{"x":-0.25,"y":18.3},{"x":0.05,"y":18.3},{"x":-0.9,"y":19},{"x":-0.6,"y":19},{"x":-0.3,"y":19},{"x":0,"y":19},{"x":0.2,"y":19},{"x":-0.9,"y":19.8},{"x":-0.6,"y":19.8},{"x":-0.3,"y":19.8},{"x":0,"y":19.8},{"x":0.2,"y":19.8},{"x":-0.9,"y":20.6},{"x":-0.6,"y":20.6},{"x":-0.3,"y":20.6},{"x":0,"y":20.6},{"x":0.2,"y":20.6},{"x":-0.85,"y":21.4},{"x":-0.55,"y":21.4},{"x":-0.25,"y":21.4},{"x":0,"y":21.4},{"x":0.18,"y":21.4},{"x":-0.8,"y":22.2},{"x":-0.5,"y":22.2},{"x":-0.2,"y":22.2},{"x":0.1,"y":22.2},{"x":-0.72,"y":23},{"x":-0.45,"y":23},{"x":-0.15,"y":23},{"x":0.1,"y":23},{"x":-0.68,"y":23.8},{"x":-0.4,"y":23.8},{"x":-0.1,"y":23.8},{"x":0.08,"y":23.8},{"x":-0.6,"y":24.6},{"x":-0.35,"y":24.6},{"x":-0.05,"y":24.6},{"x":-0.55,"y":25.4},{"x":-0.25,"y":25.4},{"x":0,"y":25.4},{"x":-0.45,"y":26.2},{"x":-0.15,"y":26.2},{"x":-0.35,"y":27},{"x":-0.1,"y":27},{"x":-0.25,"y":27.8}],
"H_s":[{"x":2.8,"y":23.5,"x2":3.05,"y2":23.9},{"x":-2.1,"y":23.7,"x2":-2,"y2":24.1},{"x":-2.05,"y":19.8,"x2":-2.3,"y2":19.3},{"x":1.4,"y":22.3,"x2":1.2,"y2":22},{"x":-1.35,"y":17.2,"x2":-1.8,"y2":17.6},{"x":1,"y":16.7,"x2":0.8,"y2":16.2},{"x":-1.35,"y":20.7,"x2":-1.3,"y2":21}],
"H_l":[{"t":"KRT86","x":3.4,"y":24.1},{"t":"KRT72","x":-1.6,"y":24.2},{"t":"KP1","x":-0.6,"y":21.2},{"t":"HNIN1","x":0.9,"y":21.8},{"t":"SOD2","x":-2.7,"y":19},{"t":"U2SURP","x":-1.15,"y":17.9},{"t":"MMP1","x":0.3,"y":16.1}],
"I_d":[{"x":-6.64,"y":30},{"x":-6.64,"y":28.9},{"x":-6.64,"y":28},{"x":-6.64,"y":26},{"x":-6.64,"y":25},{"x":-6.64,"y":23.5},{"x":-6.64,"y":23},{"x":-6.64,"y":22.6},{"x":-6.64,"y":22.2},{"x":-6.64,"y":21.8},{"x":-6.64,"y":21.4},{"x":-6.64,"y":21},{"x":-6.64,"y":20.6},{"x":-6.64,"y":20.3},{"x":-6.64,"y":20},{"x":-6.64,"y":19.7},{"x":-6.64,"y":19.3},{"x":-6.64,"y":19},{"x":-6.64,"y":18.5},{"x":-6.64,"y":18},{"x":-6.64,"y":17.5},{"x":-5.5,"y":23.2},{"x":-4.3,"y":20.6},{"x":-3.3,"y":21.6},{"x":-3.05,"y":21.8},{"x":-2.75,"y":23.5},{"x":-2.6,"y":23.3},{"x":-2.25,"y":24},{"x":-2.5,"y":20.3},{"x":-2.45,"y":18.7},{"x":-1.5,"y":22.9},{"x":-1.5,"y":23.3},{"x":-1.2,"y":23.4},{"x":-1.75,"y":20.2},{"x":-1.7,"y":19.7},{"x":-1.9,"y":19.2},{"x":-1.4,"y":20},{"x":-1.25,"y":19.5},{"x":-1.5,"y":18.9},{"x":-1.25,"y":18.5},{"x":-1.55,"y":18.1},{"x":-1.75,"y":17.7},{"x":-2,"y":17.2},{"x":-1.6,"y":17},{"x":-1.3,"y":17.6},{"x":-1.2,"y":18.2}],
"I_u":[{"x":0.9,"y":29.8},{"x":1,"y":30.6},{"x":1.25,"y":30.4},{"x":1.3,"y":30.8},{"x":1.6,"y":29.5},{"x":1.9,"y":30},{"x":1.95,"y":28.4},{"x":1.05,"y":27.2},{"x":1.15,"y":27},{"x":1.9,"y":26},{"x":2,"y":25.9},{"x":3,"y":26.3},{"x":3.35,"y":26.9},{"x":4.35,"y":26.3},{"x":2.5,"y":25},{"x":1.2,"y":24.2},{"x":1.15,"y":23.9},{"x":1.65,"y":23.3},{"x":2.8,"y":23.6},{"x":3.2,"y":24},{"x":2.8,"y":22.9},{"x":1.9,"y":22.5},{"x":1.3,"y":22.6},{"x":1.7,"y":22},{"x":1.4,"y":21.5},{"x":0.9,"y":22.2},{"x":1,"y":21.5},{"x":0.8,"y":21},{"x":1.2,"y":21},{"x":1.1,"y":20.5},{"x":1.6,"y":21},{"x":2,"y":21.2},{"x":3,"y":21.5},{"x":3.5,"y":21},{"x":3.95,"y":21.4},{"x":0.9,"y":20.3},{"x":1.3,"y":20.2},{"x":1.6,"y":20.4},{"x":1.7,"y":19.7},{"x":1,"y":19.8},{"x":1.3,"y":19.5},{"x":3.3,"y":20.3},{"x":3.3,"y":19.6},{"x":3.6,"y":19.4},{"x":3.2,"y":19},{"x":0.85,"y":19.1},{"x":1.1,"y":19},{"x":1.5,"y":18.8},{"x":2.2,"y":18.9},{"x":0.9,"y":18.4},{"x":1.2,"y":18.2},{"x":1,"y":17.8},{"x":0.75,"y":17.5},{"x":1.75,"y":16.2},{"x":6.64,"y":27.4},{"x":6.64,"y":27.1},{"x":6.64,"y":26.8},{"x":6.64,"y":26.5},{"x":6.64,"y":25.3},{"x":6.64,"y":24.9},{"x":6.64,"y":24.5},{"x":6.64,"y":24.1},{"x":6.64,"y":23.6},{"x":6.64,"y":23.2},{"x":6.64,"y":22.9},{"x":6.64,"y":22.5},{"x":6.64,"y":22.1},{"x":6.64,"y":21},{"x":6.64,"y":20.6},{"x":6.64,"y":20.3},{"x":6.64,"y":19.9},{"x":6.64,"y":19.3},{"x":6.64,"y":18.1}],
"I_g":[{"x":0.4,"y":33.8},{"x":0,"y":31.5},{"x":-0.1,"y":31},{"x":0.2,"y":30.7},{"x":-0.25,"y":30.4},{"x":0.55,"y":30.4},{"x":-0.4,"y":29.8},{"x":0.1,"y":30},{"x":-0.1,"y":29.4},{"x":0.5,"y":29.5},{"x":-0.35,"y":29},{"x":0.25,"y":29},{"x":0.55,"y":28.4},{"x":-0.55,"y":28},{"x":0.6,"y":27.5},{"x":-0.6,"y":27.2},{"x":0.65,"y":26.5},{"x":-0.65,"y":26},{"x":0.65,"y":25},{"x":-0.7,"y":25},{"x":0.65,"y":24},{"x":-0.75,"y":24},{"x":0.65,"y":23},{"x":-0.85,"y":22.7},{"x":0.7,"y":22},{"x":-0.9,"y":21.5},{"x":0.72,"y":20.7},{"x":-0.95,"y":20.3},{"x":0.7,"y":19.5},{"x":-1,"y":19},{"x":0.7,"y":18.5},{"x":-0.95,"y":18},{"x":0.6,"y":17.5},{"x":-0.8,"y":17.2},{"x":0.4,"y":17},{"x":-0.5,"y":16.8},{"x":0,"y":16.8},{"x":-1.05,"y":16.2},{"x":-0.2,"y":16.6}],
"I_c":[{"x":-0.5,"y":17.6},{"x":-0.2,"y":17.6},{"x":0.1,"y":17.6},{"x":0.35,"y":17.6},{"x":-0.6,"y":18.3},{"x":-0.3,"y":18.3},{"x":0,"y":18.3},{"x":0.3,"y":18.3},{"x":-0.72,"y":19},{"x":-0.42,"y":19},{"x":-0.12,"y":19},{"x":0.18,"y":19},{"x":0.42,"y":19},{"x":-0.75,"y":19.8},{"x":-0.45,"y":19.8},{"x":-0.15,"y":19.8},{"x":0.15,"y":19.8},{"x":0.42,"y":19.8},{"x":-0.75,"y":20.6},{"x":-0.45,"y":20.6},{"x":-0.15,"y":20.6},{"x":0.15,"y":20.6},{"x":0.42,"y":20.6},{"x":-0.7,"y":21.4},{"x":-0.4,"y":21.4},{"x":-0.1,"y":21.4},{"x":0.2,"y":21.4},{"x":0.42,"y":21.4},{"x":-0.65,"y":22.2},{"x":-0.35,"y":22.2},{"x":-0.05,"y":22.2},{"x":0.2,"y":22.2},{"x":0.4,"y":22.2},{"x":-0.6,"y":23},{"x":-0.3,"y":23},{"x":0,"y":23},{"x":0.28,"y":23},{"x":-0.55,"y":23.8},{"x":-0.25,"y":23.8},{"x":0.05,"y":23.8},{"x":0.28,"y":23.8},{"x":-0.48,"y":24.6},{"x":-0.2,"y":24.6},{"x":0.1,"y":24.6},{"x":0.25,"y":24.6},{"x":-0.4,"y":25.4},{"x":-0.1,"y":25.4},{"x":0.2,"y":25.4},{"x":-0.3,"y":26.2},{"x":0,"y":26.2},{"x":0.2,"y":26.2},{"x":-0.2,"y":27},{"x":0.1,"y":27},{"x":-0.05,"y":27.8}],
"I_s":[{"x":1.6,"y":29.5,"x2":1.7,"y2":29.7},{"x":1.15,"y":27,"x2":0.95,"y2":27.3},{"x":1.9,"y":26,"x2":2,"y2":25.3},{"x":1.15,"y":23.9,"x2":1,"y2":23.6},{"x":1.2,"y":21,"x2":1.3,"y2":20.9},{"x":-1.75,"y":17.7,"x2":-1.6,"y2":18.4},{"x":6.64,"y":18.1,"x2":6.7,"y2":18.4}],
"I_l":[{"t":"KRT10","x":2.15,"y":30.2},{"t":"KRT77","x":0.6,"y":27.7},{"t":"KRT5","x":2.4,"y":25.2},{"t":"KRT6","x":0.7,"y":23.4},{"t":"SDC4","x":1.85,"y":21.4},{"t":"HNIN1","x":0.35,"y":21.9},{"t":"CHI3","x":-1.25,"y":19},{"t":"KRT3","x":6.64,"y":18.9},{"t":"TPN3","x":0.3,"y":17}]
},
"concat":[
{"title":{"text":"MIO−M1 Secretome: IFNγ","offset":-9},"width":208,"height":121,"encoding":{"x":{"field":"x","type":"quantitative","title":"log₂ fold change","scale":{"domain":[-7.25,7.35],"nice":false},"axis":{"values":[-6,-4,-2,0,2,4,6],"labelExpr":"datum.value%4?'':datum.label","tickOpacity":{"condition":{"test":"datum.value%4","value":0},"value":1}}},"y":{"field":"y","type":"quantitative","title":"Abundance ratio weight","scale":{"domain":[14.5,34.5],"nice":false},"axis":{"values":[15,17.5,20,22.5,25,27.5,30,32.5],"labelExpr":"datum.value%5?'':datum.label","tickOpacity":{"condition":{"test":"datum.value%5","value":0},"value":1}}}},"layer":[{"data":{"name":"A_d"},"mark":{"type":"circle","style":"d"}},{"data":{"name":"A_u"},"mark":{"type":"circle","style":"u"}},{"data":{"name":"A_c"},"mark":{"type":"circle","style":"c"}},{"data":{"name":"A_g"},"mark":{"type":"circle","style":"g"}},{"data":{"name":"A_s"},"mark":{"type":"rule","style":"s"},"encoding":{"x2":{"field":"x2"},"y2":{"field":"y2"}}},{"data":{"name":"A_l"},"mark":{"type":"text","style":"l"},"encoding":{"text":{"field":"t"}}},{"data":{"values":[{"t":"A","x":-8.7,"y":35.2}]},"mark":{"type":"text","style":"t"},"encoding":{"text":{"field":"t"}}}]},
{"title":{"text":"MIO−M1 Secretome: TNFα","offset":-9},"width":205,"height":121,"encoding":{"x":{"field":"x","type":"quantitative","title":"log₂ fold change","scale":{"domain":[-7.22,7.22],"nice":false},"axis":{"values":[-6,-4,-2,0,2,4,6],"labelExpr":"datum.value%4?'':datum.label","tickOpacity":{"condition":{"test":"datum.value%4","value":0},"value":1}}},"y":{"field":"y","type":"quantitative","title":"Abundance ratio weight","scale":{"domain":[15.9,34.5],"nice":false},"axis":{"values":[17.5,20,22.5,25,27.5,30,32.5],"labelExpr":"datum.value%5?'':datum.label","tickOpacity":{"condition":{"test":"datum.value%5","value":0},"value":1}}}},"layer":[{"data":{"name":"B_d"},"mark":{"type":"circle","style":"d"}},{"data":{"name":"B_u"},"mark":{"type":"circle","style":"u"}},{"data":{"name":"B_c"},"mark":{"type":"circle","style":"c"}},{"data":{"name":"B_g"},"mark":{"type":"circle","style":"g"}},{"data":{"name":"B_s"},"mark":{"type":"rule","style":"s"},"encoding":{"x2":{"field":"x2"},"y2":{"field":"y2"}}},{"data":{"name":"B_l"},"mark":{"type":"text","style":"l"},"encoding":{"text":{"field":"t"}}},{"data":{"values":[{"t":"B","x":-8.85,"y":35.1}]},"mark":{"type":"text","style":"t"},"encoding":{"text":{"field":"t"}}}]},
{"title":{"text":"MIO−M1 Secretome: VEGF","offset":-8},"width":204,"height":121,"encoding":{"x":{"field":"x","type":"quantitative","title":"log₂ fold change","scale":{"domain":[-7.27,7.04],"nice":false},"axis":{"values":[-6,-4,-2,0,2,4,6],"labelExpr":"datum.value%4?'':datum.label","tickOpacity":{"condition":{"test":"datum.value%4","value":0},"value":1}}},"y":{"field":"y","type":"quantitative","title":"Abundance ratio weight","scale":{"domain":[15.85,34.5],"nice":false},"axis":{"values":[17.5,20,22.5,25,27.5,30,32.5],"labelExpr":"datum.value%5?'':datum.label","tickOpacity":{"condition":{"test":"datum.value%5","value":0},"value":1}}}},"layer":[{"data":{"name":"C_d"},"mark":{"type":"circle","style":"d"}},{"data":{"name":"C_u"},"mark":{"type":"circle","style":"u"}},{"data":{"name":"C_c"},"mark":{"type":"circle","style":"c"}},{"data":{"name":"C_g"},"mark":{"type":"circle","style":"g"}},{"data":{"name":"C_s"},"mark":{"type":"rule","style":"s"},"encoding":{"x2":{"field":"x2"},"y2":{"field":"y2"}}},{"data":{"name":"C_l"},"mark":{"type":"text","style":"l"},"encoding":{"text":{"field":"t"}}},{"data":{"values":[{"t":"C","x":-8.7,"y":35}]},"mark":{"type":"text","style":"t"},"encoding":{"text":{"field":"t"}}}]},
{"title":{"text":"MIO−M1 Secretome: IL−4","offset":-16},"width":208,"height":123,"encoding":{"x":{"field":"x","type":"quantitative","title":"log₂ fold change","scale":{"domain":[-7.25,7.35],"nice":false},"axis":{"values":[-6,-4,-2,0,2,4,6],"labelExpr":"datum.value%4?'':datum.label","tickOpacity":{"condition":{"test":"datum.value%4","value":0},"value":1}}},"y":{"field":"y","type":"quantitative","title":"Abundance ratio weight","scale":{"domain":[15.5,34.46],"nice":false},"axis":{"values":[17.5,20,22.5,25,27.5,30,32.5],"labelExpr":"datum.value%5?'':datum.label","tickOpacity":{"condition":{"test":"datum.value%5","value":0},"value":1}}}},"layer":[{"data":{"name":"D_d"},"mark":{"type":"circle","style":"d"}},{"data":{"name":"D_u"},"mark":{"type":"circle","style":"u"}},{"data":{"name":"D_c"},"mark":{"type":"circle","style":"c"}},{"data":{"name":"D_g"},"mark":{"type":"circle","style":"g"}},{"data":{"name":"D_s"},"mark":{"type":"rule","style":"s"},"encoding":{"x2":{"field":"x2"},"y2":{"field":"y2"}}},{"data":{"name":"D_l"},"mark":{"type":"text","style":"l"},"encoding":{"text":{"field":"t"}}},{"data":{"values":[{"t":"D","x":-8.7,"y":36}]},"mark":{"type":"text","style":"t"},"encoding":{"text":{"field":"t"}}}]},
{"title":{"text":"MIO−M1 Secretome: IL−6","offset":-12},"width":205,"height":123,"encoding":{"x":{"field":"x","type":"quantitative","title":"log₂ fold change","scale":{"domain":[-7.22,7.22],"nice":false},"axis":{"values":[-6,-4,-2,0,2,4,6],"labelExpr":"datum.value%4?'':datum.label","tickOpacity":{"condition":{"test":"datum.value%4","value":0},"value":1}}},"y":{"field":"y","type":"quantitative","title":"Abundance ratio weight","scale":{"domain":[14.3,34.7],"nice":false},"axis":{"values":[15,17.5,20,22.5,25,27.5,30,32.5],"labelExpr":"datum.value%5?'':datum.label","tickOpacity":{"condition":{"test":"datum.value%5","value":0},"value":1}}}},"layer":[{"data":{"name":"E_d"},"mark":{"type":"circle","style":"d"}},{"data":{"name":"E_u"},"mark":{"type":"circle","style":"u"}},{"data":{"name":"E_c"},"mark":{"type":"circle","style":"c"}},{"data":{"name":"E_g"},"mark":{"type":"circle","style":"g"}},{"data":{"name":"E_s"},"mark":{"type":"rule","style":"s"},"encoding":{"x2":{"field":"x2"},"y2":{"field":"y2"}}},{"data":{"name":"E_l"},"mark":{"type":"text","style":"l"},"encoding":{"text":{"field":"t"}}},{"data":{"values":[{"t":"E","x":-8.85,"y":35.7}]},"mark":{"type":"text","style":"t"},"encoding":{"text":{"field":"t"}}}]},
{"title":{"text":"MIO−M1 Secretome: IL−10","offset":-14},"width":204,"height":123,"encoding":{"x":{"field":"x","type":"quantitative","title":"log₂ fold change","scale":{"domain":[-7.27,7.04],"nice":false},"axis":{"values":[-6,-4,-2,0,2,4,6],"labelExpr":"datum.value%4?'':datum.label","tickOpacity":{"condition":{"test":"datum.value%4","value":0},"value":1}}},"y":{"field":"y","type":"quantitative","title":"Abundance ratio weight","scale":{"domain":[14.1,34.5],"nice":false},"axis":{"values":[15,17.5,20,22.5,25,27.5,30,32.5],"labelExpr":"datum.value%5?'':datum.label","tickOpacity":{"condition":{"test":"datum.value%5","value":0},"value":1}}}},"layer":[{"data":{"name":"F_d"},"mark":{"type":"circle","style":"d"}},{"data":{"name":"F_u"},"mark":{"type":"circle","style":"u"}},{"data":{"name":"F_c"},"mark":{"type":"circle","style":"c"}},{"data":{"name":"F_g"},"mark":{"type":"circle","style":"g"}},{"data":{"name":"F_s"},"mark":{"type":"rule","style":"s"},"encoding":{"x2":{"field":"x2"},"y2":{"field":"y2"}}},{"data":{"name":"F_l"},"mark":{"type":"text","style":"l"},"encoding":{"text":{"field":"t"}}},{"data":{"values":[{"t":"F","x":-8.7,"y":35.8}]},"mark":{"type":"text","style":"t"},"encoding":{"text":{"field":"t"}}}]},
{"title":{"text":"MIO−M1 Secretome: TGFβ 1","offset":-13},"width":208,"height":121,"encoding":{"x":{"field":"x","type":"quantitative","title":"log₂ fold change","scale":{"domain":[-7.25,7.35],"nice":false},"axis":{"values":[-6,-4,-2,0,2,4,6],"labelExpr":"datum.value%4?'':datum.label","tickOpacity":{"condition":{"test":"datum.value%4","value":0},"value":1}}},"y":{"field":"y","type":"quantitative","title":"Abundance ratio weight","scale":{"domain":[14.7,34.5],"nice":false},"axis":{"values":[15,17.5,20,22.5,25,27.5,30,32.5],"labelExpr":"datum.value%5?'':datum.label","tickOpacity":{"condition":{"test":"datum.value%5","value":0},"value":1}}}},"layer":[{"data":{"name":"G_d"},"mark":{"type":"circle","style":"d"}},{"data":{"name":"G_u"},"mark":{"type":"circle","style":"u"}},{"data":{"name":"G_c"},"mark":{"type":"circle","style":"c"}},{"data":{"name":"G_g"},"mark":{"type":"circle","style":"g"}},{"data":{"name":"G_s"},"mark":{"type":"rule","style":"s"},"encoding":{"x2":{"field":"x2"},"y2":{"field":"y2"}}},{"data":{"name":"G_l"},"mark":{"type":"text","style":"l"},"encoding":{"text":{"field":"t"}}},{"data":{"values":[{"t":"G","x":-8.7,"y":36.15}]},"mark":{"type":"text","style":"t"},"encoding":{"text":{"field":"t"}}}]},
{"title":{"text":"MIO−M1 Secretome: TGFβ 2","offset":-13},"width":205,"height":121,"encoding":{"x":{"field":"x","type":"quantitative","title":"log₂ fold change","scale":{"domain":[-7.22,7.22],"nice":false},"axis":{"values":[-6,-4,-2,0,2,4,6],"labelExpr":"datum.value%4?'':datum.label","tickOpacity":{"condition":{"test":"datum.value%4","value":0},"value":1}}},"y":{"field":"y","type":"quantitative","title":"Abundance ratio weight","scale":{"domain":[15.3,34.5],"nice":false},"axis":{"values":[17.5,20,22.5,25,27.5,30,32.5],"labelExpr":"datum.value%5?'':datum.label","tickOpacity":{"condition":{"test":"datum.value%5","value":0},"value":1}}}},"layer":[{"data":{"name":"H_d"},"mark":{"type":"circle","style":"d"}},{"data":{"name":"H_u"},"mark":{"type":"circle","style":"u"}},{"data":{"name":"H_c"},"mark":{"type":"circle","style":"c"}},{"data":{"name":"H_g"},"mark":{"type":"circle","style":"g"}},{"data":{"name":"H_s"},"mark":{"type":"rule","style":"s"},"encoding":{"x2":{"field":"x2"},"y2":{"field":"y2"}}},{"data":{"name":"H_l"},"mark":{"type":"text","style":"l"},"encoding":{"text":{"field":"t"}}},{"data":{"values":[{"t":"H","x":-8.85,"y":36.1}]},"mark":{"type":"text","style":"t"},"encoding":{"text":{"field":"t"}}}]},
{"title":{"text":"MIO−M1 Secretome: TGFβ 3","offset":-13},"width":204,"height":121,"encoding":{"x":{"field":"x","type":"quantitative","title":"log₂ fold change","scale":{"domain":[-7.27,7.04],"nice":false},"axis":{"values":[-6,-4,-2,0,2,4,6],"labelExpr":"datum.value%4?'':datum.label","tickOpacity":{"condition":{"test":"datum.value%4","value":0},"value":1}}},"y":{"field":"y","type":"quantitative","title":"Abundance ratio weight","scale":{"domain":[15.3,34.5],"nice":false},"axis":{"values":[17.5,20,22.5,25,27.5,30,32.5],"labelExpr":"datum.value%5?'':datum.label","tickOpacity":{"condition":{"test":"datum.value%5","value":0},"value":1}}}},"layer":[{"data":{"name":"I_d"},"mark":{"type":"circle","style":"d"}},{"data":{"name":"I_u"},"mark":{"type":"circle","style":"u"}},{"data":{"name":"I_c"},"mark":{"type":"circle","style":"c"}},{"data":{"name":"I_g"},"mark":{"type":"circle","style":"g"}},{"data":{"name":"I_s"},"mark":{"type":"rule","style":"s"},"encoding":{"x2":{"field":"x2"},"y2":{"field":"y2"}}},{"data":{"name":"I_l"},"mark":{"type":"text","style":"l"},"encoding":{"text":{"field":"t"}}},{"data":{"values":[{"t":"I","x":-8.7,"y":36.1}]},"mark":{"type":"text","style":"t"},"encoding":{"text":{"field":"t"}}}]}
]}
